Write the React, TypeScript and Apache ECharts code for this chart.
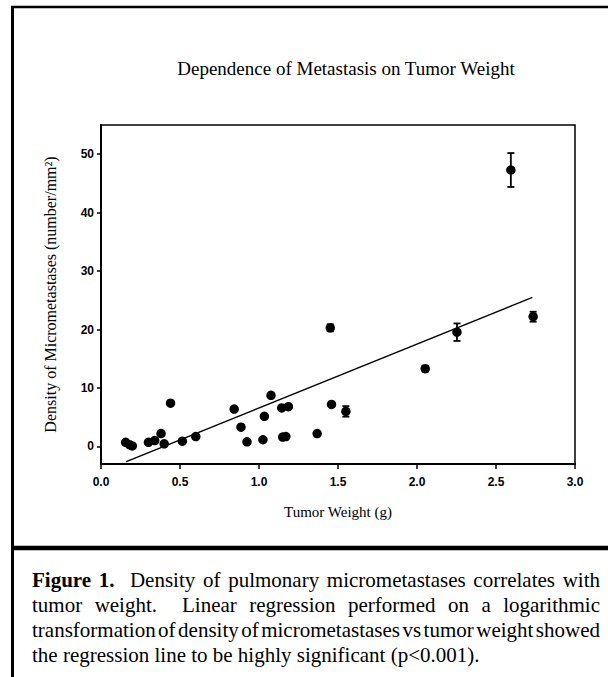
import React, { useEffect, useRef } from "react";
import * as echarts from "echarts";

// ---- data ----
const weights = [0.156, 0.18, 0.198, 0.3, 0.34, 0.38, 0.4, 0.44, 0.515, 0.6, 0.843, 0.886, 0.924, 1.025, 1.034, 1.076, 1.144, 1.186, 1.15, 1.17, 1.368, 1.451, 1.459, 1.55, 2.052, 2.253, 2.594, 2.735];
const densities = [0.7, 0.3, 0.1, 0.7, 1.0, 2.2, 0.45, 7.4, 0.9, 1.7, 6.4, 3.3, 0.8, 1.15, 5.15, 8.75, 6.6, 6.8, 1.6, 1.7, 2.2, 20.3, 7.2, 6.0, 13.3, 19.55, 47.3, 22.2];
const errors = [0, 0, 0, 0, 0, 0, 0, 0, 0, 0, 0, 0, 0, 0, 0, 0, 0, 0, 0, 0, 0, 0.6, 0, 0.9, 0.5, 1.5, 2.9, 0.85];
const regressionX = [0.16, 2.73];
const regressionY = [-2.6, 25.5];
const xTickValues = [0, 0.5, 1, 1.5, 2, 2.5, 3];
const yTickValues = [0, 10, 20, 30, 40, 50];

const titleText = "Dependence of Metastasis on Tumor Weight";
const xName = "Tumor Weight (g)";
const yName = "Density of Micrometastases (number/mm\u00B2)";
const captionBold = ["Figure", "1."];
const captionLines = [
  "Figure 1.  Density of pulmonary micrometastases correlates with",
  "tumor weight.  Linear regression performed on a logarithmic",
  "transformation of density of micrometastases vs tumor weight showed",
  "the regression line to be highly significant (p<0.001).",
];

const SERIF = '"Liberation Serif", "Times New Roman", serif';
const SANS = '"Liberation Sans", Arial, sans-serif';

function buildCaption(): any[] {
  const canvas = document.createElement("canvas");
  const ctx = canvas.getContext("2d") as CanvasRenderingContext2D;
  const fontSize = 21;
  const x0 = 32;
  const x1 = 600;
  const centers = [580, 605, 630, 655];
  const els: any[] = [];
  captionLines.forEach((line, li) => {
    const raw = line.split(" ");
    const tokens: { t: string; b: boolean; w: number; gap: number }[] = [];
    raw.forEach((tok) => {
      if (tok === "") {
        if (tokens.length) tokens[tokens.length - 1].gap += 1;
        return;
      }
      const bold = li === 0 && tokens.length < captionBold.length && captionBold.includes(tok);
      ctx.font = `${bold ? "bold " : ""}${fontSize}px ${SERIF}`;
      tokens.push({ t: tok, b: bold, w: ctx.measureText(tok).width, gap: 1 });
    });
    tokens[tokens.length - 1].gap = 0;
    const sumW = tokens.reduce((s, t) => s + t.w, 0);
    const sumGap = tokens.reduce((s, t) => s + t.gap, 0);
    ctx.font = `${fontSize}px ${SERIF}`;
    const spaceW = ctx.measureText(" ").width;
    const justify = li < captionLines.length - 1;
    const unit = justify ? (x1 - x0 - sumW) / sumGap : spaceW;
    let x = x0;
    tokens.forEach((tk) => {
      els.push({
        type: "text",
        x,
        y: centers[li],
        style: {
          text: tk.t,
          fill: "#000",
          fontSize,
          fontFamily: SERIF,
          fontWeight: tk.b ? "bold" : "normal",
          textAlign: "left",
          align: "left",
          textVerticalAlign: "middle",
          verticalAlign: "middle",
        },
      });
      x += tk.w + unit * tk.gap;
    });
  });
  return els;
}

export default function App() {
  const ref = useRef<HTMLDivElement>(null);
  useEffect(() => {
    document.body.style.margin = "0";
    const chart = echarts.init(ref.current!, null, { renderer: "svg" });
    const points = weights.map((w, i) => [w, densities[i]]);
    const errData = weights.map((w, i) => [w, densities[i], errors[i]]);
    const regData = regressionX.map((x, i) => [x, regressionY[i]]);

    const option: any = {
      animation: false,
      backgroundColor: "#fff",
      grid: {
        left: 101,
        right: 33,
        top: 125,
        bottom: 213,
        show: true,
        borderColor: "#000",
        borderWidth: 1.5,
        backgroundColor: "transparent",
      },
      xAxis: {
        type: "value",
        min: 0,
        max: 3,
        interval: 0.5,
        name: xName,
        nameLocation: "middle",
        nameGap: 40,
        nameTextStyle: { fontFamily: SERIF, fontSize: 15, color: "#000" },
        axisLine: { show: true, onZero: false, lineStyle: { color: "#000", width: 2 } },
        axisTick: { show: true, inside: false, length: 5, lineStyle: { color: "#000", width: 1.5 }, customValues: xTickValues },
        axisLabel: {
          customValues: xTickValues,
          margin: 12,
          color: "#000",
          fontFamily: SANS,
          fontWeight: "bold",
          fontSize: 12,
          formatter: (v: number) => v.toFixed(1),
        },
        splitLine: { show: false },
      },
      yAxis: {
        type: "value",
        min: -3,
        max: 55,
        name: yName,
        nameLocation: "middle",
        nameGap: 43,
        nameTextStyle: { fontFamily: SERIF, fontSize: 16, color: "#000" },
        axisLine: { show: true, onZero: false, lineStyle: { color: "#000", width: 2 } },
        axisTick: { show: true, inside: false, length: 4, lineStyle: { color: "#000", width: 1.5 }, customValues: yTickValues },
        axisLabel: {
          customValues: yTickValues,
          margin: 7,
          color: "#000",
          fontFamily: SANS,
          fontWeight: "bold",
          fontSize: 12,
        },
        splitLine: { show: false },
      },
      series: [
        {
          type: "line",
          data: regData,
          showSymbol: false,
          symbol: "none",
          lineStyle: { color: "#000", width: 1.5 },
          z: 2,
        },
        {
          type: "custom",
          data: errData,
          encode: { x: 0, y: 1 },
          z: 3,
          renderItem: (params: any, api: any) => {
            const x = api.value(0);
            const y = api.value(1);
            const e = api.value(2);
            if (!e) return { type: "group", children: [] };
            const top = api.coord([x, y + e]);
            const bot = api.coord([x, y - e]);
            const hw = 3.5;
            const st = { stroke: "#000", lineWidth: 1.8 };
            return {
              type: "group",
              children: [
                { type: "line", shape: { x1: top[0], y1: top[1], x2: bot[0], y2: bot[1] }, style: st },
                { type: "line", shape: { x1: top[0] - hw, y1: top[1], x2: top[0] + hw, y2: top[1] }, style: st },
                { type: "line", shape: { x1: bot[0] - hw, y1: bot[1], x2: bot[0] + hw, y2: bot[1] }, style: st },
              ],
            };
          },
        },
        {
          type: "scatter",
          data: points,
          symbol: "circle",
          symbolSize: 9.5,
          itemStyle: { color: "#000", opacity: 1 },
          z: 4,
        },
      ],
      graphic: [
        {
          type: "text",
          x: 346,
          y: 68,
          style: {
            text: titleText,
            fill: "#000",
            fontSize: 19,
            fontFamily: SERIF,
            textAlign: "center",
            align: "center",
            textVerticalAlign: "middle",
            verticalAlign: "middle",
          },
        },
        { type: "line", shape: { x1: 11, y1: 7, x2: 608, y2: 7 }, style: { stroke: "#000", lineWidth: 2.5 } },
        { type: "line", shape: { x1: 12.5, y1: 6, x2: 12.5, y2: 677 }, style: { stroke: "#000", lineWidth: 3 } },
        { type: "line", shape: { x1: 11, y1: 548, x2: 608, y2: 548 }, style: { stroke: "#000", lineWidth: 4.5 } },
        ...buildCaption(),
      ],
    };
    chart.setOption(option);
    return () => chart.dispose();
  }, []);
  return <div ref={ref} style={{ width: 608, height: 677 }} />;
}
